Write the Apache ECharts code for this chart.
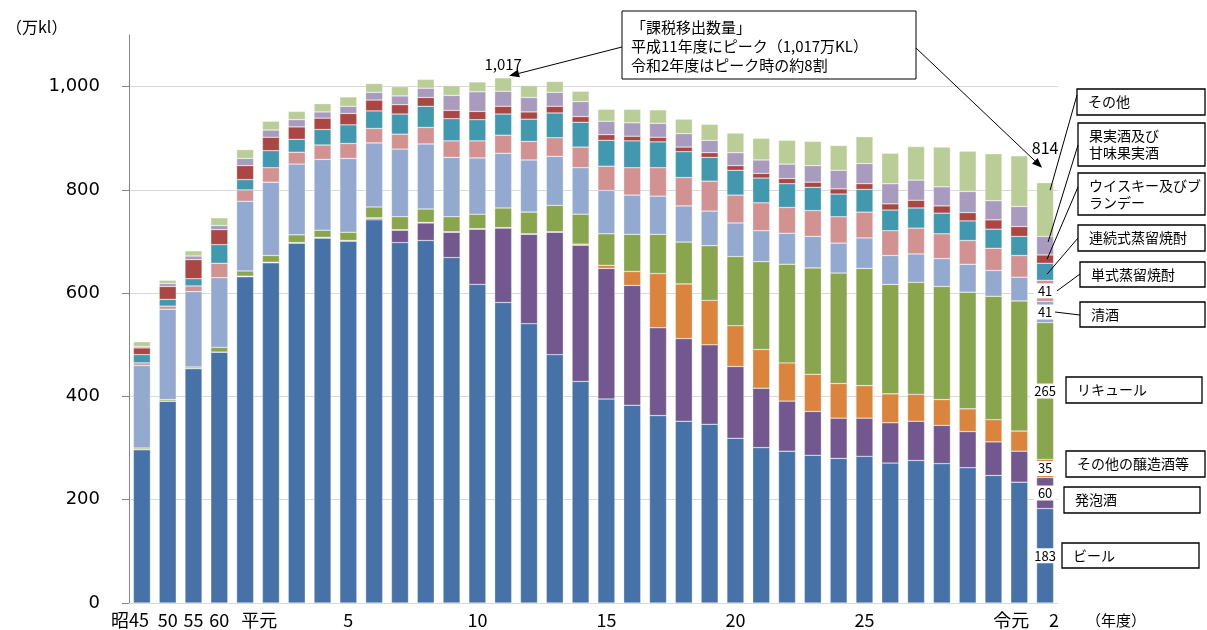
<!DOCTYPE html>
<html>
<head>
<meta charset="utf-8">
<script src="https://cdn.jsdelivr.net/npm/echarts@6/dist/echarts.min.js"></script>
<style>
    html, body { margin: 0; padding: 0; background: #fff; }
    #main { width: 1207px; height: 630px; }
</style>
</head>
<body>
<div id="main"></div>
<script>
// 年度（昭和45年度〜令和2年度）
var years = ['昭45', '昭50', '昭55', '昭60', '平元', '平2', '平3', '平4', '平5', '平6', '平7', '平8', '平9', '平10',
    '平11', '平12', '平13', '平14', '平15', '平16', '平17', '平18', '平19', '平20', '平21', '平22', '平23', '平24',
    '平25', '平26', '平27', '平28', '平29', '平30', '令元', '令2'];
// 横軸に表示するラベル
var tickLabels = ['昭45', '50', '55', '60', '平元', '', '', '', '5', '', '', '', '', '10', '', '', '', '', '15',
    '', '', '', '', '20', '', '', '', '', '25', '', '', '', '', '', '令元', '2'];
var yTicks = [0, 200, 400, 600, 800, 1000];

// 課税移出数量（万kl）
var beer = [297, 391, 454, 486, 632, 659, 697, 707, 701, 742, 698, 702, 669, 617, 582, 541, 481, 429, 395, 383,
    363, 352, 346, 319, 301, 294, 286, 280, 284, 271, 276, 270, 262, 247, 234, 183];
var happoshu = [0, 0, 0, 0, 0, 0, 0, 0, 0, 3, 24, 34, 49, 107, 144, 173, 237, 264, 253, 232,
    170, 160, 154, 139, 115, 97, 85, 78, 74, 78, 76, 74, 70, 65, 60, 60];
var otherBrewed = [0, 0, 0, 0, 1, 1, 1, 1, 1, 1, 1, 1, 1, 1, 1, 1, 1, 2, 6, 27,
    105, 106, 86, 79, 75, 74, 72, 67, 63, 56, 52, 50, 44, 43, 39, 35];
var liqueur = [3, 3, 3, 9, 10, 13, 15, 14, 16, 21, 25, 26, 29, 28, 38, 42, 51, 58, 61, 72,
    76, 81, 106, 134, 170, 191, 206, 214, 227, 212, 217, 219, 226, 239, 252, 265];
var sake = [160, 175, 146, 135, 135, 142, 137, 137, 143, 124, 131, 126, 115, 109, 106, 101, 95, 90, 84, 76,
    74, 70, 67, 65, 60, 60, 61, 58, 59, 56, 55, 54, 54, 50, 46, 41];
var shochuOtsu = [5, 6, 11, 28, 22, 28, 23, 28, 29, 28, 29, 32, 32, 33, 35, 36, 36, 40, 47, 53,
    55, 55, 58, 54, 54, 50, 50, 51, 50, 48, 50, 48, 46, 43, 42, 41];
var shochuKo = [16, 13, 14, 36, 20, 33, 25, 30, 36, 34, 39, 41, 43, 41, 41, 43, 48, 48, 50, 52,
    50, 50, 46, 48, 48, 46, 45, 44, 44, 40, 39, 40, 38, 37, 37, 33];
var whisky = [13, 25, 37, 29, 27, 26, 24, 22, 22, 21, 18, 17, 16, 16, 15, 14, 13, 11, 11, 9,
    9, 9, 9, 9, 9, 10, 10, 10, 11, 12, 15, 14, 16, 18, 19, 16];
var wine = [3, 6, 7, 8, 14, 14, 14, 12, 14, 15, 17, 18, 29, 38, 29, 28, 27, 29, 26, 26,
    27, 26, 24, 25, 26, 28, 32, 36, 39, 39, 39, 37, 41, 37, 39, 36];
var others = [9, 6, 10, 15, 17, 17, 16, 16, 18, 17, 18, 17, 19, 19, 26, 23, 21, 20, 23, 26,
    26, 28, 31, 38, 42, 46, 47, 48, 52, 59, 65, 77, 78, 91, 98, 104];

var names = ['ビール', '発泡酒', 'その他の醸造酒等', 'リキュール', '清酒', '単式蒸留焼酎', '連続式蒸留焼酎',
    'ウイスキー及びブランデー', '果実酒及び甘味果実酒', 'その他'];
var SERIES_DATA = [beer, happoshu, otherBrewed, liqueur, sake, shochuOtsu, shochuKo, whisky, wine, others];
var COLORS = ['#4672a8', '#72588f', '#db843d', '#89a54e', '#94a9d0', '#d29292', '#4198af', '#aa4643', '#a99bbd', '#bacd96'];

var FONT = '"Noto Sans CJK JP", sans-serif';
var LAST = years.length - 1;
var PEAK = 14;   // 平成11年度

// 年度ごとの合計
var totals = years.map(function (y, i) {
    var t = 0;
    for (var s = 0; s < SERIES_DATA.length; s++) t += SERIES_DATA[s][i];
    return t;
});

// 横軸ラベルのずらし（px）
var LABEL_SHIFT = {0: -12, 4: 14, 34: -8, 35: 9};
var rich = {};
Object.keys(LABEL_SHIFT).forEach(function (k) {
    var d = LABEL_SHIFT[k];
    rich['s' + k] = {
        fontSize: 18, fontFamily: FONT, color: '#000',
        padding: d < 0 ? [0, -2 * d, 0, 0] : [0, 0, 0, 2 * d]
    };
});

function makeSeries(s) {
    var data = SERIES_DATA[s].map(function (v, i) {
        if (i === LAST && s <= 5) {
            return {value: v, label: {show: true}};
        }
        if (s === SERIES_DATA.length - 1 && (i === LAST || i === PEAK)) {
            return {value: v, label: {
                show: true, position: 'top', distance: i === LAST ? 27 : 6,
                fontSize: i === LAST ? 16 : 15, backgroundColor: 'transparent', padding: 0,
                formatter: function (p) { return totals[p.dataIndex].toLocaleString('en-US'); }
            }};
        }
        return v;
    });
    return {
        name: names[s],
        type: 'bar',
        stack: 'total',
        barWidth: 17,
        data: data,
        itemStyle: {color: COLORS[s], borderColor: 'rgba(255,255,255,0.6)', borderWidth: 0.5},
        label: {
            show: false, position: 'inside', color: '#000', fontSize: 13, fontFamily: FONT,
            backgroundColor: '#fff', padding: [1, 4]
        },
        emphasis: {disabled: true}
    };
}

var option = {
    animation: false,
    textStyle: {fontFamily: FONT},
    grid: {left: 129, right: 149, top: 35, bottom: 27},
    xAxis: {
        type: 'category',
        data: years,
        axisLine: {lineStyle: {color: '#d9d9d9', width: 1}},
        axisTick: {show: false},
        axisLabel: {
            interval: 0, margin: 8, fontSize: 18, color: '#000', fontFamily: FONT,
            rich: rich,
            formatter: function (v, i) {
                var t = tickLabels[i];
                if (LABEL_SHIFT[i] !== undefined) return '{s' + i + '|' + t + '}';
                return t;
            }
        }
    },
    yAxis: {
        type: 'value',
        min: 0, max: 1100, interval: 200,
        axisLine: {show: true, lineStyle: {color: '#868686'}},
        axisTick: {show: true, length: 7, customValues: yTicks, lineStyle: {color: '#868686'}},
        axisLabel: {
            customValues: yTicks, margin: 29, fontSize: 18, color: '#000', fontFamily: '"DejaVu Sans", sans-serif',
            formatter: function (v) { return v > 1000 ? '' : v.toLocaleString('en-US'); }
        },
        splitLine: {lineStyle: {color: ['#d9d9d9', '#d9d9d9', '#d9d9d9', '#d9d9d9', '#d9d9d9', '#d9d9d9', 'rgba(0,0,0,0)']}}
    },
    series: SERIES_DATA.map(function (d, s) { return makeSeries(s); })
};

var chart = echarts.init(document.getElementById('main'));
chart.setOption(option);

// 右側の凡例ボックス
var NOTES = [
    {s: 9, text: 'その他', x: 1077, y: 89, w: 128, h: 26, ly: 95, f: 0.86, dx: 5},
    {s: 8, text: '果実酒及び\n甘味果実酒', x: 1078, y: 123, w: 127, h: 43, ly: 145, f: 0.7, dx: 3},
    {s: 7, text: 'ウイスキー及びブ\nランデー', x: 1078, y: 173, w: 127, h: 42, ly: 187, f: 0.5, dx: 2},
    {s: 6, text: '連続式蒸留焼酎', x: 1078, y: 225, w: 127, h: 26, ly: 238, f: 0.36, dx: 2},
    {s: 5, text: '単式蒸留焼酎', x: 1080, y: 262, w: 125, h: 25, ly: 274, f: 0.5, dx: 12},
    {s: 4, text: '清酒', x: 1080, y: 302, w: 125, h: 25, ly: 315, f: 0.5, dx: 10},
    {s: 3, text: 'リキュール', x: 1066, y: 377, w: 136, h: 26},
    {s: 2, text: 'その他の醸造酒等', x: 1066, y: 451, w: 139, h: 26},
    {s: 1, text: '発泡酒', x: 1064, y: 487, w: 136, h: 26},
    {s: 0, text: 'ビール', x: 1062, y: 543, w: 137, h: 25}
];

function px(i, v) {
    return chart.convertToPixel({xAxisIndex: 0, yAxisIndex: 0}, [i, v]);
}

function line(x1, y1, x2, y2) {
    return {type: 'line', z: 100, shape: {x1: x1, y1: y1, x2: x2, y2: y2}, style: {stroke: '#000', lineWidth: 1}};
}

// 矢印（線＋三角）
function arrow(x1, y1, x2, y2) {
    var a = Math.atan2(y2 - y1, x2 - x1), L = 10, W = 4;
    var bx = x2 - L * Math.cos(a), by = y2 - L * Math.sin(a);
    return [line(x1, y1, bx, by), {
        type: 'polygon', z: 100,
        shape: {points: [[x2, y2], [bx - W * Math.sin(a), by + W * Math.cos(a)], [bx + W * Math.sin(a), by - W * Math.cos(a)]]},
        style: {fill: '#000'}
    }];
}

function buildGraphics() {
    var g = [];
    g.push({type: 'text', z: 100, x: 6, y: 27, style: {text: '（万kl）', font: '16px ' + FONT, fill: '#000', verticalAlign: 'middle'}});
    g.push({type: 'text', z: 100, x: 1086, y: 620, style: {text: '（年度）', font: '15px ' + FONT, fill: '#000', verticalAlign: 'middle'}});

    // 注記ボックス
    g.push({type: 'rect', z: 100, shape: {x: 622, y: 11, width: 294, height: 68}, style: {fill: '#fff', stroke: '#000', lineWidth: 1}});
    g.push({type: 'text', z: 101, x: 631, y: 46, style: {
        text: '「課税移出数量」\n平成11年度にピーク（1,017万KL）\n令和2年度はピーク時の約8割',
        font: '15px ' + FONT, fill: '#000', lineHeight: 19, verticalAlign: 'middle'
    }});
    var p1 = px(PEAK, totals[PEAK]);
    var p2 = px(LAST, totals[LAST]);
    g = g.concat(arrow(622, 47, p1[0] + 6, p1[1] - 2));
    g = g.concat(arrow(916, 48, p2[0] - 3, p2[1] - 15));

    // 凡例ボックスと引出線
    NOTES.forEach(function (n) {
        g.push({type: 'rect', z: 100, shape: {x: n.x, y: n.y, width: n.w, height: n.h},
            style: {fill: '#fff', stroke: '#000', lineWidth: 1.3}});
        g.push({type: 'text', z: 101, x: n.x + 11, y: n.y + n.h / 2, style: {
            text: n.text, font: '14px ' + FONT, fill: '#000', lineHeight: 17, verticalAlign: 'middle'
        }});
        if (n.ly !== undefined) {
            var base = 0;
            for (var k = 0; k < n.s; k++) base += SERIES_DATA[k][LAST];
            var p = px(LAST, base + SERIES_DATA[n.s][LAST] * n.f);
            g.push(line(n.x, n.ly, p[0] + n.dx, p[1]));
        }
    });
    return g;
}

chart.setOption({graphic: buildGraphics()});
</script>
</body>
</html>
